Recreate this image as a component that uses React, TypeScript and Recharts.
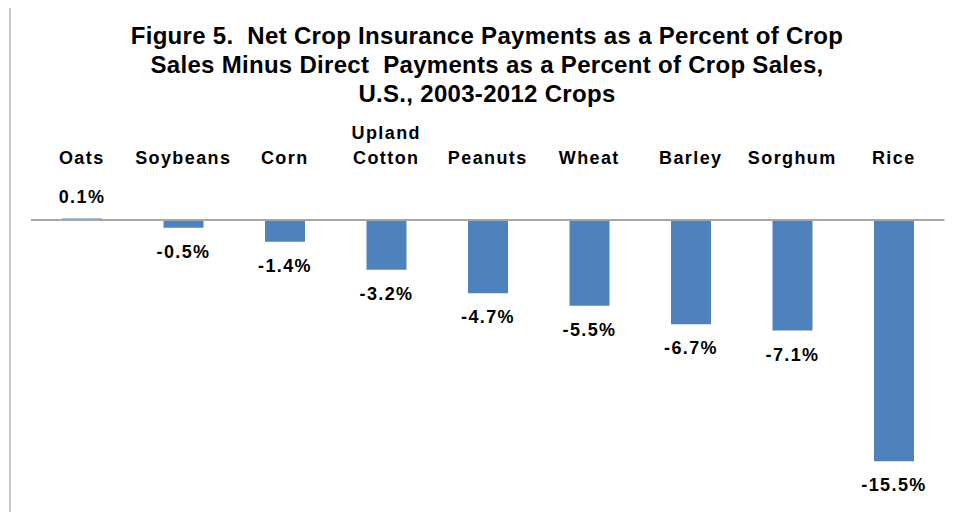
import { BarChart, Bar, XAxis, YAxis, ReferenceLine, LabelList } from 'recharts';

const crops = ['Oats', 'Soybeans', 'Corn', 'Upland\nCotton', 'Peanuts', 'Wheat', 'Barley', 'Sorghum', 'Rice'];
const netPct = [0.1, -0.5, -1.4, -3.2, -4.7, -5.5, -6.7, -7.1, -15.5];
const titleLines = [
  'Figure 5.  Net Crop Insurance Payments as a Percent of Crop',
  'Sales Minus Direct  Payments as a Percent of Crop Sales,',
  'U.S., 2003-2012 Crops',
];

const data = crops.map((c, i) => ({ crop: c, value: netPct[i] }));

const FONT = "Arial, 'Liberation Sans', sans-serif";

function CropTick(props: any) {
  const lines = String(props.payload.value).split('\n');
  const baseY = 164 - (lines.length - 1) * 25;
  return (
    <text x={props.x} y={baseY} textAnchor="middle" fontFamily={FONT} fontWeight="bold"
      fontSize={18} letterSpacing={1.4} fill="#000">
      {lines.map((l, i) => (
        <tspan key={i} x={props.x} y={baseY + i * 25}>{l}</tspan>
      ))}
    </text>
  );
}

function ValueLabel(props: any) {
  const { x, y, width, height, value } = props;
  const top = Math.min(y, y + height);
  const bottom = Math.max(y, y + height);
  const ty = value >= 0 ? top - 16 : bottom + 30;
  return (
    <text x={x + width / 2} y={ty} textAnchor="middle" fontFamily={FONT} fontWeight="bold"
      fontSize={18} letterSpacing={1.4} fill="#000">
      {`${value.toFixed(1)}%`}
    </text>
  );
}

export default function App() {
  return (
    <div style={{ position: 'relative', width: 954, height: 520, margin: -8, background: '#fff', overflow: 'hidden' }}>
      <div style={{
        position: 'absolute', left: 9, top: 6, width: 960, height: 530,
        borderTop: '2px solid #c6c6c6', borderLeft: '2px solid #c6c6c6',
      }} />
      <div style={{
        position: 'absolute', left: 0, top: 21, width: 974, textAlign: 'center',
        fontFamily: FONT, fontWeight: 'bold', fontSize: 24, letterSpacing: 0.3,
        lineHeight: '29px', color: '#000',
      }}>
        {titleLines.map((t, i) => <div key={i} style={{ whiteSpace: 'pre' }}>{t}</div>)}
      </div>
      <div style={{ position: 'absolute', left: 0, top: 0 }}>
        <BarChart width={954} height={520} data={data}
          margin={{ top: 174.5, right: 9.5, bottom: 51, left: 31 }}>
          <XAxis dataKey="crop" orientation="top" height={30} axisLine={false} tickLine={false}
            interval={0} tick={<CropTick />} />
          <YAxis hide domain={[-16, 1]} />
          <Bar dataKey="value" fill="#4f81bd" barSize={40} isAnimationActive={false}>
            <LabelList dataKey="value" content={<ValueLabel />} />
          </Bar>
          <ReferenceLine y={0} stroke="#a6a6a6" strokeWidth={2} />
        </BarChart>
      </div>
    </div>
  );
}
